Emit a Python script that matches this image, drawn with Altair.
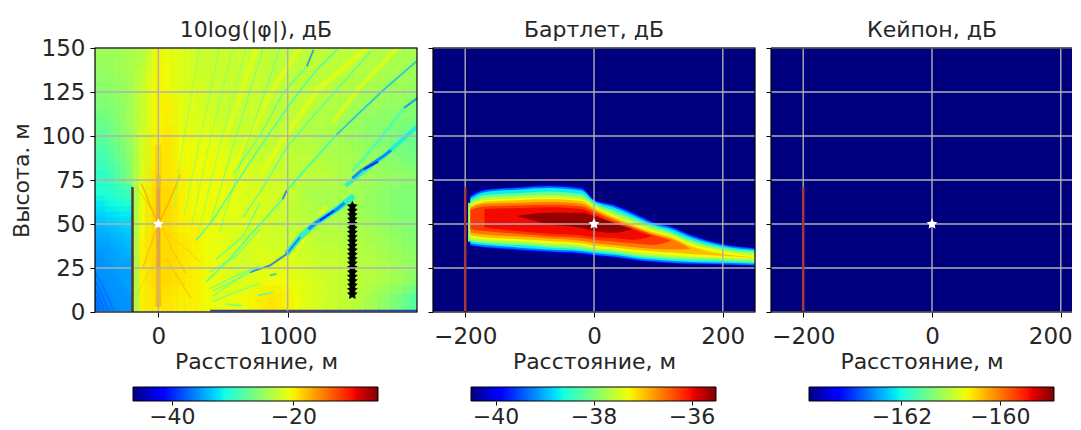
import altair as alt
import numpy as np
import pandas as pd

FONT = "DejaVu Sans"
TXT = "#262626"
W, H = 322, 264
W3 = 301

# ---- colour map (jet breakpoints)
JET_T = [0, .11, .125, .34, .35, .375, .64, .65, .66, .89, .91, 1]
def jet_hex(t):
    r = np.interp(t, [0, .35, .66, .89, 1], [0, 0, 1, 1, .5])
    g = np.interp(t, [0, .125, .375, .64, .91, 1], [0, 0, 1, 1, 0, 0])
    b = np.interp(t, [0, .11, .34, .65, 1], [.5, 1, 1, 0, 0])
    return "#%02x%02x%02x" % (int(r*255), int(g*255), int(b*255))
JET_HEX = [jet_hex(t) for t in JET_T]

def cscale(lo, hi):
    return alt.Scale(domain=[lo + t*(hi-lo) for t in JET_T], range=JET_HEX, interpolate="rgb")

# ---- panel 1 field, dB
GRID_X = [-450,-350,-250,-150,-50,50,150,250,350,450,550,650,750,850,950,1050,1150,1250,1350,1450,1550,1650,1750,1850,1950]
GRID_Y = [145,135,125,115,105,95,85,75,65,55,45,35,25,15,5]
R145 = [-24.5,-24.5,-24,-23.5,-21.5,-21,-21.5,-22,-22.5,-22.5,-22.5,-22.5,-22.5,-23,-23,-23,-23,-23,-23,-23,-23,-23.5,-23.5,-24,-24]
R135 = [-25,-24.5,-24,-23,-21,-20.5,-21.5,-22,-22.5,-22.5,-22.5,-22.5,-22.5,-23,-23,-23,-23,-23,-23,-23,-23.5,-23.5,-24,-24,-24.5]
R125 = [-25.5,-25,-24.5,-22.5,-20.5,-20.5,-21.5,-21.5,-22,-22.5,-22.5,-22.5,-22.5,-23,-23,-23,-23,-23,-23.5,-23.5,-24,-24,-24.5,-24.5,-25]
R115 = [-26,-25.5,-24.5,-22.5,-20.5,-20,-21,-21.5,-22,-22.5,-22.5,-22.5,-22.5,-23,-23,-23,-23,-23.5,-23.5,-24,-24.5,-24.5,-25,-25,-25.5]
R105 = [-27,-26,-24.5,-22.5,-20.5,-20,-21,-21.5,-21.5,-22,-22.5,-22.5,-22.5,-22.5,-23,-23,-23.5,-23.5,-24,-24.5,-25,-25.5,-25.5,-26,-26.5]
R95  = [-28,-26.5,-25,-22,-20,-19.5,-20.5,-21,-21,-21.5,-22,-22.5,-22.5,-23,-23,-23.5,-23.5,-24,-24,-24.5,-25,-25.5,-26,-27,-27]
R85  = [-29,-27.5,-25.5,-22,-20,-19.5,-20.5,-20.5,-20.5,-21,-21.5,-22,-22.5,-22.5,-22.5,-23,-23,-23.5,-24,-24,-24.5,-25,-25.5,-26,-26.5]
R75  = [-30,-28.5,-26,-21.5,-19.5,-19.5,-20,-20.5,-20.5,-20.5,-21,-21.5,-22,-22,-22.5,-23,-23,-23,-23.5,-24,-24,-24.5,-25,-25,-25.5]
R65  = [-30,-29,-27,-21,-19,-19,-20,-20.5,-20.5,-20.5,-21,-21.5,-21.5,-22,-22,-23,-24,-24,-24,-24,-24.5,-25,-25.5,-26,-26]
R55  = [-30,-29,-27,-20.5,-19,-19,-20,-20.5,-20.5,-21,-21,-21.5,-21.5,-22,-22.5,-23,-23.5,-24,-24,-24,-24.5,-25,-25.5,-26,-26]
R45  = [-30,-29,-27,-20.5,-19,-19,-20,-20,-20.5,-21,-21.5,-21.5,-22,-22,-22.5,-23,-23,-23.5,-23.5,-24,-24,-24.5,-25,-25.5,-26]
R35  = [-30,-29,-27,-20,-19,-19,-19.5,-20,-20.5,-21,-21.5,-22,-21.5,-22,-22,-22.5,-22.5,-23,-23,-23.5,-23.5,-24,-24.5,-25,-25.5]
R25  = [-30,-29,-27,-20,-19,-19,-19.5,-20,-20.5,-21,-22,-22,-21.5,-21,-21.5,-21.5,-22,-22.5,-22.5,-23,-23.5,-23.5,-24,-24.5,-25]
R15  = [-30,-29,-27,-20,-19,-19,-19.5,-20,-20.5,-21,-21.5,-21.5,-21,-20.5,-20.5,-21,-21.5,-22,-22.5,-23,-23,-23.5,-24,-24.5,-25.5]
R5   = [-30,-29,-27,-20,-19.5,-19.5,-20,-20,-20.5,-21,-21,-20.5,-20,-19.5,-20,-20.5,-21.5,-22,-22.5,-23,-23.5,-24.5,-25.5,-26.5,-28]
GRID_ROWS = [R145,R135,R125,R115,R105,R95,R85,R75,R65,R55,R45,R35,R25,R15,R5]

# shadow behind the wall, dB
SH_X = [-475,-425,-375,-325,-275,-225]
SH_Y = [69,63,57,51,45,39,33,27,21,15,9,3]
SH_ROWS = [
 [-30.5,-30.5,-30.5,-30,-29.5,-29],
 [-32,-32,-31.5,-31,-31,-30.5],
 [-33,-33,-32.5,-32.5,-32,-32],
 [-34,-34,-33.5,-33.5,-33,-33],
 [-34.5,-34.5,-34.5,-34,-34,-33.5],
 [-35,-35,-35,-34.5,-34.5,-34],
 [-35.5,-35.5,-35,-35,-34.5,-34.5],
 [-35.5,-35.5,-35.5,-35,-35,-35],
 [-36,-35.5,-35.5,-35.5,-35,-35],
 [-36,-36,-35.5,-35.5,-35.5,-35],
 [-36.5,-36,-36,-35.5,-35.5,-35.5],
 [-37,-36.5,-36,-36,-35.5,-35.5],
]

# streaks: (dB, width, [(x m, alt m), ...])
STREAKS = [
 (-21, 5, [(1615,150),(1226,126),(992,101),(784,78)]),
 (-21, 5, [(1100,150),(870,125),(650,92),(500,70)]),
 (-21, 4, [(760,150),(620,120),(450,85),(350,62)]),
 (-21, 5, [(1300,60),(1000,28),(850,18)]),
 (-21, 4, [(1850,150),(1560,128),(1350,108)]),
 (-20, 8, [(0,0),(0,150)]),
 (-18.5, 7, [(0,3),(0,95)]),
 (-17.5, 5, [(0,3),(0,78)]),
 (-15.5, 3, [(0,25),(0,70)]),
 (-16.5, 1.5, [(-130,73),(-60,60),(0,50),(80,62),(170,78)]),
 (-17.5, 1.5, [(-120,25),(-50,40),(0,50)]),
 (-17.5, 1, [(-180,72),(-50,58),(0,50)]),
 (-18, 1.5, [(30,48),(110,35),(210,22)]),
 (-18, 1.5, [(60,30),(150,20),(250,8)]),
 (-18.5, 1.2, [(60,45),(180,38),(330,28)]),
 (-18.5, 1.2, [(-150,12),(-60,25),(0,35)]),
 (-26, 1, [(317,150),(200,100),(120,60)]),
 (-26, 1, [(473,150),(300,90),(200,55)]),
 (-26, 1, [(577,150),(390,95),(260,50)]),
 (-26, 1, [(681,150),(460,90),(310,45)]),
 (-27, 1.2, [(810,150),(560,90),(400,50)]),
 (-27, 1.2, [(940,150),(660,90),(470,45)]),
 (-29, 1.3, [(1148,139.6),(966,124.5),(784,100),(577,78.3)]),
 (-36, 1.8, [(1200,149),(1148,139.6)]),
 (-31, 1.5, [(1382,149),(1226,137.7),(1044,120.8),(862,101.9),(706,85),(551,67),(420,52),(291,40.6)]),
 (-29, 1.5, [(1642,148),(1382,126.4),(1174,109.4),(992,93.4),(810,70.8),(655,53.8)]),
 (-34, 1.8, [(2005,143),(1745,126.4),(1564,113.8),(1377,100.6)]),
 (-31, 1.8, [(1377,100.6),(1174,84),(992,69)]),
 (-37, 2, [(992,69),(960,64)]),
 (-31, 1.5, [(960,64),(836,53.8),(706,43.4),(551,30),(369,17)]),
 (-29, 1.3, [(784,62),(655,43),(447,30)]),
 (-28, 1.3, [(784,47),(603,32),(395,22.6)]),
 (-28, 1.3, [(784,26.4),(551,18.9),(395,13.2)]),
 (-29, 3, [(1901,116),(1700,97),(1500,80)]),
 (-36, 2.2, [(2005,121.7),(1901,116)]),
 (-32, 4, [(2005,105.7),(1745,88.7),(1447,71.7)]),
 (-37, 3, [(1800,92),(1745,88.7),(1564,80.2),(1500,76)]),
 (-42, 2, [(1700,85.5),(1590,81)]),
 (-32, 6, [(1512,66),(1382,58.5),(1226,51),(1096,42.5),(992,33)]),
 (-37, 3, [(1440,62),(1382,58.5),(1226,51),(1160,47)]),
 (-42, 1.8, [(1360,57.5),(1250,52)]),
 (-37, 2, [(1096,42.5),(992,33),(862,26.4),(706,22.6)]),
 (-28, 1.5, [(706,22.6),(560,17),(420,12)]),
 (-27, 1.5, [(750,25),(600,18),(420,9)]),
 (-27, 1.5, [(780,16),(620,12),(420,6)]),
 (-34, 1.8, [(862,20.8),(914,21.7)]),
 (-31, 1.5, [(771,9.4),(888,11.3)]),
 (-28, 1.5, [(520,4.5),(650,3.5)]),
 (-44, 2.5, [(400,0.6),(2000,0.6)]),
 (-38.5, 0.8, [(-490,18),(-450,12),(-410,5),(-390,1)]),
 (-38.5, 0.8, [(-490,14),(-460,9),(-430,3),(-420,1)]),
 (-38.5, 0.8, [(-490,10),(-470,6),(-455,2)]),
 (-38, 0.8, [(-490,23),(-430,15),(-375,6),(-350,1)]),
 (-38, 0.8, [(-490,6),(-480,3)]),
]

STAR_PATH = "M0,-1L0.29,-0.4L0.95,-0.31L0.48,0.15L0.59,0.81L0,0.5L-0.59,0.81L-0.48,0.15L-0.95,-0.31L-0.29,-0.4Z"
ARRAY_Z = [10,12.5,15,17.5,20,22.5,25,27.5,30,32.5,35,37.5,40,42.5,45,47.5,50,52.5,55,57.5,60]

# ---- panel 2 contours
B_X = [-192,-170,-120,-70,-20,0,30,60,90,120,150,200,250]
B_LEVELS = [-39.85,-39.3,-38.7,-38.1,-37.65,-37.3,-36.95,-36.6,-36.25,-36.0,-35.6]
B_UPPER = [
 [66.5,69.7,71,72.2,71,64,61.2,57,51.7,48.9,44,38.8,36.5],
 [65.5,69,70.5,71.5,70,63.5,60.5,56,51,48,43.5,38.3,36],
 [64.5,68,69.5,70.5,69,63,59.5,55,50,47,42.5,37.5,35.2],
 [63,66.5,67.5,68.5,67,62,58,53.5,49,45.5,41,36.5,34.5],
 [62,65,66,66.5,65.5,61,56.5,52,47.8,44.5,40,35.5,33.5],
 [61,63.5,64.5,65,64,60,55,50.5,46.5,43.5,39,34.5,32],
 [60,62.5,63.5,64,63,59,54,49.5,45.5,42.5,37.5,33,31],
 [59,61.5,62,62.5,61.5,58,53,48.5,44.5,41.5,36],
 [58,60,60.5,61,60,57,52,48,44,40.5],
 [None,58.5,59,59.5,58.5,55.5,50.5,47,43],
 [None,None,54.5,56.4,56.4,54.5,50.7,47],
]
B_LOWER = [
 [37.5,36.5,35,33.7,32.8,31.8,30.9,29.4,28.2,27.5,27,26.7,26.1],
 [38,37,35.7,34.5,33.5,32.5,31.5,30,28.8,28,27.5,27.2,26.6],
 [39,38,36.7,35.5,34.5,33.5,32.5,31,29.8,29,28.4,28,27.4],
 [40,39,38,36.7,35.5,34.5,33.5,32,30.8,30,29.4,29,28],
 [41,40,39,37.8,36.8,35.5,34.6,33,31.8,31,30.5,30,29],
 [42,41.2,40.3,39,37.8,36.5,35.5,34,33,32.2,31.5,30.8,30.5],
 [43.5,42.5,41.5,40.3,39,37.8,36.8,35.5,34.5,33.8,33,32,31],
 [45,44,43,41.8,40.5,39.2,38,37,36,35.5,36],
 [47,46,44.5,43,42,41,40,39,38,40.5],
 [None,48,46,44.5,43.5,42.5,42,41,43],
 [None,None,54.5,49.8,47.9,46,45,47],
]
B_BLIP = [40, 62]

# ---- axes
X_TICKS_1 = [0, 1000]
X_TICKS_2 = [-200, 0, 200]
Y_TICKS = [0, 25, 50, 75, 100, 125, 150]
FS = 22

def xy_axes(xticks, ytitle, ylabels, label_expr=None):
    xargs = dict(values=xticks, title="Расстояние, м", grid=False, domain=False, tickSize=5, tickColor="black",
                   labelFontSize=FS+1, titleFontSize=FS, labelFont=FONT, titleFont=FONT, labelColor=TXT, titleColor=TXT,
                   titleFontWeight="normal", labelPadding=8, titlePadding=3, labelFlush=False, format="d")
    if label_expr:
        xargs["labelExpr"] = label_expr
    xax = alt.Axis(**xargs)
    yargs = dict(values=Y_TICKS, grid=False, domain=False, tickSize=5, tickColor="black",
                 labels=ylabels, labelFontSize=FS+1, titleFontSize=FS, labelFont=FONT, titleFont=FONT,
                 labelColor=TXT, titleColor=TXT, titleFontWeight="normal", labelPadding=5, titlePadding=8, format="d")
    yax = alt.Axis(title=ytitle, **yargs)
    return xax, yax

def panel(title, xdom, xticks, ytitle, ylabels, lo, hi, inner, wall_color, wall_w, width=W, closed=True, label_expr=None):
    sx = alt.Scale(domain=xdom, nice=False, zero=False)
    sy = alt.Scale(domain=[0, 150], nice=False, zero=False)
    xax, yax = xy_axes(xticks, ytitle, ylabels, label_expr)
    XE = lambda f: alt.X(f, scale=sx, axis=xax)
    YE = lambda f: alt.Y(f, scale=sy, axis=yax)
    base = alt.Chart(pd.DataFrame({"x": [xdom[0]], "x2": [xdom[1]], "y": [0], "y2": [150], "v": [lo]})).mark_rect().encode(
        x=XE("x:Q"), x2="x2:Q", y=YE("y:Q"), y2="y2:Q",
        color=alt.Color("v:Q", scale=cscale(lo, hi), legend=None))
    layers = [base] + inner(XE, YE, cscale(lo, hi))
    for t in xticks:
        layers.append(alt.Chart(pd.DataFrame({"x": [t], "y": [0], "y2": [150]})).mark_rule(color="#b0b0b0", strokeWidth=1.4).encode(
            x=XE("x:Q"), y=YE("y:Q"), y2="y2:Q"))
    ys = pd.DataFrame({"y": Y_TICKS})
    layers.append(alt.Chart(ys).mark_rule(color="#b0b0b0", strokeWidth=1.4).encode(
        y=YE("y:Q"), x=alt.value(0), x2=alt.value(width)))
    layers.append(alt.Chart(pd.DataFrame({"x": [-200], "y": [0], "y2": [71]})).mark_rule(color=wall_color, strokeWidth=wall_w).encode(
        x=XE("x:Q"), y=YE("y:Q"), y2="y2:Q"))
    layers.append(alt.Chart(pd.DataFrame({"x": [0], "y": [50]})).mark_point(shape=STAR_PATH, filled=True, color="white", opacity=1, size=130).encode(
        x=XE("x:Q"), y=YE("y:Q")))
    one = pd.DataFrame({"a": [0]})
    if closed:
        layers.append(alt.Chart(one).mark_rect(filled=False, stroke="black", strokeWidth=1.2).encode(
            x=alt.value(0), x2=alt.value(width), y=alt.value(0), y2=alt.value(H)))
    else:
        for yy in (0, H):
            layers.append(alt.Chart(one).mark_rule(color="black", strokeWidth=1.2).encode(
                x=alt.value(0), x2=alt.value(width), y=alt.value(yy)))
        layers.append(alt.Chart(one).mark_rule(color="black", strokeWidth=1.2).encode(
            x=alt.value(0), y=alt.value(0), y2=alt.value(H)))
        # the last tick label, pulled in so that it stays on the page
        layers.append(alt.Chart(pd.DataFrame({"x": [200], "t": ["200"]})).mark_text(
            font=FONT, fontSize=FS+1, color=TXT, align="center", baseline="alphabetic", dx=-10).encode(
            x=XE("x:Q"), y=alt.value(H+32), text="t:N"))
    layers.append(alt.Chart(pd.DataFrame({"t": [title]})).mark_text(
        font=FONT, fontSize=FS, color=TXT, align="center", baseline="alphabetic").encode(
        text="t:N", x=alt.value(W/2), y=alt.value(-11)))
    return alt.layer(*layers).properties(width=width, height=H)

def field_1(XE, YE, cs):
    rows = [{"x": x-50, "x2": x+50, "y": y-5, "y2": y+5, "v": v}
            for y, row in zip(GRID_Y, GRID_ROWS) for x, v in zip(GRID_X, row)]
    df = pd.DataFrame(rows)
    out = []
    for dx, dy, op in [(0, 0, 1), (50, 0, 1/2), (0, 5, 1/3), (50, 5, 1/4)]:
        d = df.copy()
        d["x"] += dx; d["x2"] += dx; d["y"] += dy; d["y2"] += dy
        out.append(alt.Chart(d).mark_rect(clip=True, opacity=op, strokeWidth=0.6).encode(
            x=XE("x:Q"), x2="x2:Q", y=YE("y:Q"), y2="y2:Q",
            color=alt.Color("v:Q", scale=cs, legend=None),
            stroke=alt.Stroke("v:Q", scale=cs, legend=None)))
    sh = pd.DataFrame([{"x": x-25, "x2": x+25, "y": y-3, "y2": y+3, "v": v}
                       for y, row in zip(SH_Y, SH_ROWS) for x, v in zip(SH_X, row)])
    for dx, dy, op in [(0, 0, 1), (-25, 0, 1/2), (0, -3, 1/3), (-25, -3, 1/4)]:
        d = sh.copy()
        d["x"] += dx; d["x2"] += dx; d["y"] += dy; d["y2"] += dy
        out.append(alt.Chart(d).mark_rect(clip=True, opacity=op, strokeWidth=0.6).encode(
            x=XE("x:Q"), x2="x2:Q", y=YE("y:Q"), y2="y2:Q",
            color=alt.Color("v:Q", scale=cs, legend=None),
            stroke=alt.Stroke("v:Q", scale=cs, legend=None)))
    pts = [{"id": i, "o": j, "x": p[0], "y": p[1], "v": v, "w": w}
           for i, (v, w, path) in enumerate(STREAKS) for j, p in enumerate(path)]
    out.append(alt.Chart(pd.DataFrame(pts)).mark_line(clip=True, opacity=0.75, interpolate="linear").encode(
        x=XE("x:Q"), y=YE("y:Q"),
        detail="id:N", order="o:Q", strokeWidth=alt.StrokeWidth("w:Q", scale=None, legend=None),
        color=alt.Color("v:Q", scale=cs, legend=None)))
    out.append(alt.Chart(pd.DataFrame({"x": [1500]*len(ARRAY_Z), "y": ARRAY_Z})).mark_point(
        shape=STAR_PATH, filled=True, color="black", opacity=1, size=130).encode(
        x=XE("x:Q"), y=YE("y:Q")))
    return out

def field_2(XE, YE, cs):
    out = []
    for v, up, lw in zip(B_LEVELS, B_UPPER, B_LOWER):
        rows = [{"x": x, "y": a, "y2": b, "v": v} for x, a, b in zip(B_X, up, lw) if a is not None]
        out.append(alt.Chart(pd.DataFrame(rows)).mark_area(clip=True, interpolate="monotone").encode(
            x=XE("x:Q"), y=YE("y:Q"), y2="y2:Q",
            color=alt.Color("v:Q", scale=cs, legend=None)))
    out.append(alt.Chart(pd.DataFrame({"x": [-194], "y": [B_BLIP[0]], "y2": [B_BLIP[1]], "v": [-37.8]})).mark_rule(strokeWidth=2).encode(
        x=XE("x:Q"), y=YE("y:Q"), y2="y2:Q", color=alt.Color("v:Q", scale=cs, legend=None)))
    return out

def field_3(XE, YE, cs):
    return []

def colorbar(lo, hi, ticks, width=W):
    span = hi - lo
    pxv = span / 245.0
    dom = [lo - 38*pxv, hi + (width-283)*pxv]
    sx = alt.Scale(domain=dom, nice=False, zero=False)
    grad = alt.Gradient(gradient="linear", x1=0, x2=1, y1=0, y2=0,
                        stops=[alt.GradientStop(color=c, offset=t) for t, c in zip(JET_T, JET_HEX)])
    ax = alt.Axis(values=ticks, title=None, grid=False, domain=False, tickSize=4, tickColor="black", labelFontSize=FS,
                  labelFont=FONT, labelColor=TXT, labelPadding=1, labelFlush=False, format="d")
    return alt.Chart(pd.DataFrame({"x": [lo], "x2": [hi]})).mark_rect(color=grad, stroke="black", strokeWidth=1).encode(
        x=alt.X("x:Q", scale=sx, axis=ax), x2="x2:Q", y=alt.value(0), y2=alt.value(14)
    ).properties(width=width, height=14, view=alt.ViewConfig(stroke="transparent"))

p1 = panel("10log(|φ|), дБ", [-490, 2000], X_TICKS_1, "Высота. м", True, -46.4, -6.07, field_1, "#5c3a30", 2.5)
p2 = panel("Бартлет, дБ", [-250, 250], X_TICKS_2, None, False, -40.5, -35.5, field_2, "#a5383a", 2.5)
p3 = panel("Кейпон, дБ", [-250, 217.4], X_TICKS_2, None, False, -163.88, -158.9, field_3, "#a5383a", 2.5,
           width=W3, closed=False, label_expr="datum.value == 200 ? '' : format(datum.value, 'd')")

b1 = colorbar(-46.4, -6.07, [-40, -20])
b2 = colorbar(-40.5, -35.5, [-40, -38, -36])
b3 = colorbar(-163.88, -158.9, [-162, -160], width=W3)

top = alt.hconcat(p1, p2, p3, spacing=16, bounds="flush").resolve_scale(color="independent", stroke="independent", x="independent", y="independent")
bot = alt.hconcat(b1, b2, b3, spacing=16, bounds="flush").resolve_scale(x="independent")
chart = alt.vconcat(top, bot, spacing=339, bounds="flush").resolve_scale(color="independent", stroke="independent").properties(
    padding={"left": 2, "top": 11, "right": 0, "bottom": 0}
).configure_view(stroke=None)

chart.save("out.html", embed_options={"renderer": "svg", "actions": False})
